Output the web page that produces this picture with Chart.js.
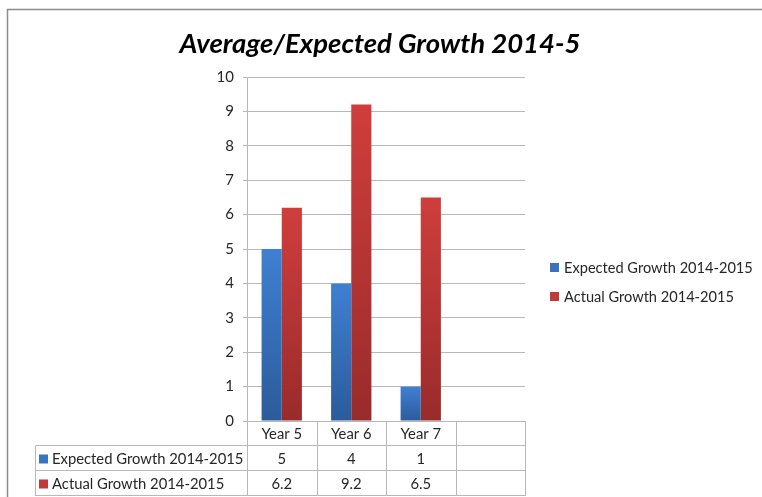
<!DOCTYPE html>
<html>
<head>
<meta charset="utf-8">
<script src="https://cdn.jsdelivr.net/npm/chart.js@4/dist/chart.umd.min.js"></script>
<style>
  html, body { margin: 0; padding: 0; background: #fff; }
  #wrap { width: 762px; height: 497px; position: relative; }
</style>
</head>
<body>
<div id="wrap"><canvas id="growth-chart" width="762" height="497"></canvas></div>
<script>
// categories and series
const categories = ["Year 5", "Year 6", "Year 7", ""];
const seriesNames = ["Expected Growth 2014-2015", "Actual Growth 2014-2015"];
const expectedGrowth = [5, 4, 1, null];
const actualGrowth = [6.2, 9.2, 6.5, null];
const chartTitle = "Average/Expected Growth 2014-5";

const FONT = "Lato, 'Open Sans', sans-serif";
const GRID = "#b8b8b8";
const TEXT = "#262626";

// top/bottom colours of each series' gradient
const fills = [
    { top: "#3f80d2", bottom: "#2b5b9b", flat: "#3a72bd" },
    { top: "#cf3e3c", bottom: "#992b2b", flat: "#c0393b" },
];

function barGradient(seriesIdx) {
    return (ctx) => {
        const chart = ctx.chart;
        const f = fills[seriesIdx];
        if (!chart.chartArea || ctx.raw == null) return f.flat;
        const y = chart.scales.y;
        const top = y.getPixelForValue(ctx.raw);
        const bottom = y.getPixelForValue(0);
        if (!isFinite(top) || bottom - top < 1) return f.flat;
        const g = chart.ctx.createLinearGradient(0, top, 0, bottom);
        g.addColorStop(0, f.top);
        g.addColorStop(1, f.bottom);
        return g;
    };
}

// frame, title, legend and the data table underneath the plot
const excelFrame = {
    id: "excelFrame",
    afterDraw(chart) {
        const c = chart.ctx;
        const x = chart.scales.x;
        const area = chart.chartArea;
        c.save();

        // outer chart border
        c.strokeStyle = "#8c8c8c";
        c.lineWidth = 1.5;
        c.beginPath();
        c.moveTo(7.5, 497);
        c.lineTo(7.5, 9.5);
        c.lineTo(762, 9.5);
        c.stroke();

        // title
        c.fillStyle = "#000";
        c.font = "italic bold 27.5px " + FONT;
        c.textAlign = "center";
        c.textBaseline = "alphabetic";
        c.fillText(chartTitle, 380, 53);

        // legend on the right
        c.font = "14.6px " + FONT;
        c.textAlign = "left";
        c.textBaseline = "middle";
        const legendY = [267, 296];
        seriesNames.forEach((name, i) => {
            c.fillStyle = fills[i].flat;
            c.fillRect(550, legendY[i] - 4, 9, 9);
            c.fillStyle = TEXT;
            c.fillText(name, 564, legendY[i] + 1);
        });

        // data table
        const n = categories.length;
        const colW = (area.right - area.left) / n;
        const rowTop = area.bottom;
        const rowH = 25;
        const tableLeft = 35.5;
        c.strokeStyle = GRID;
        c.lineWidth = 1;
        c.beginPath();
        for (let i = 0; i <= n; i++) {
            const px = Math.round(area.left + i * colW) + 0.5;
            c.moveTo(px, rowTop);
            c.lineTo(px, rowTop + rowH * 3);
        }
        for (let r = 1; r <= 3; r++) {
            const py = Math.round(rowTop + r * rowH) - 0.5;
            c.moveTo(tableLeft, py);
            c.lineTo(area.right + 0.5, py);
        }
        c.moveTo(tableLeft, rowTop + rowH);
        c.lineTo(tableLeft, rowTop + rowH * 3);
        c.stroke();

        c.font = "14.8px " + FONT;
        c.fillStyle = TEXT;
        c.textAlign = "center";
        categories.forEach((cat, i) => {
            c.fillText(cat, x.getPixelForValue(i), rowTop + rowH / 2 + 1);
        });

        const rows = [expectedGrowth, actualGrowth];
        rows.forEach((vals, r) => {
            const cy = rowTop + rowH * (r + 1) + rowH / 2;
            c.fillStyle = fills[r].flat;
            c.fillRect(39, cy - 4, 9, 9);
            c.fillStyle = TEXT;
            c.textAlign = "left";
            c.fillText(seriesNames[r], 52, cy + 1);
            c.textAlign = "center";
            vals.forEach((v, i) => {
                if (v != null) c.fillText(String(v), x.getPixelForValue(i), cy + 1);
            });
        });

        c.restore();
    },
};

new Chart(document.getElementById("growth-chart"), {
    type: "bar",
    data: {
        labels: categories,
        datasets: [
            { label: seriesNames[0], data: expectedGrowth, backgroundColor: barGradient(0) },
            { label: seriesNames[1], data: actualGrowth, backgroundColor: barGradient(1) },
        ],
    },
    options: {
        responsive: false,
        animation: false,
        events: [],
        layout: { padding: { left: 0, top: 77, right: 237, bottom: 76 } },
        datasets: { bar: { categoryPercentage: 0.58, barPercentage: 1.0 } },
        plugins: {
            legend: { display: false },
            title: { display: false },
            tooltip: { enabled: false },
        },
        scales: {
            x: {
                display: false,
            },
            y: {
                min: 0,
                max: 10,
                afterFit(scale) { scale.width = 247; },
                ticks: {
                    stepSize: 1,
                    color: TEXT,
                    padding: 9,
                    font: { family: FONT, size: 15 },
                },
                grid: { color: GRID, tickLength: 4 },
                border: { display: true, color: GRID },
            },
        },
    },
    plugins: [excelFrame],
});
</script>
</body>
</html>
